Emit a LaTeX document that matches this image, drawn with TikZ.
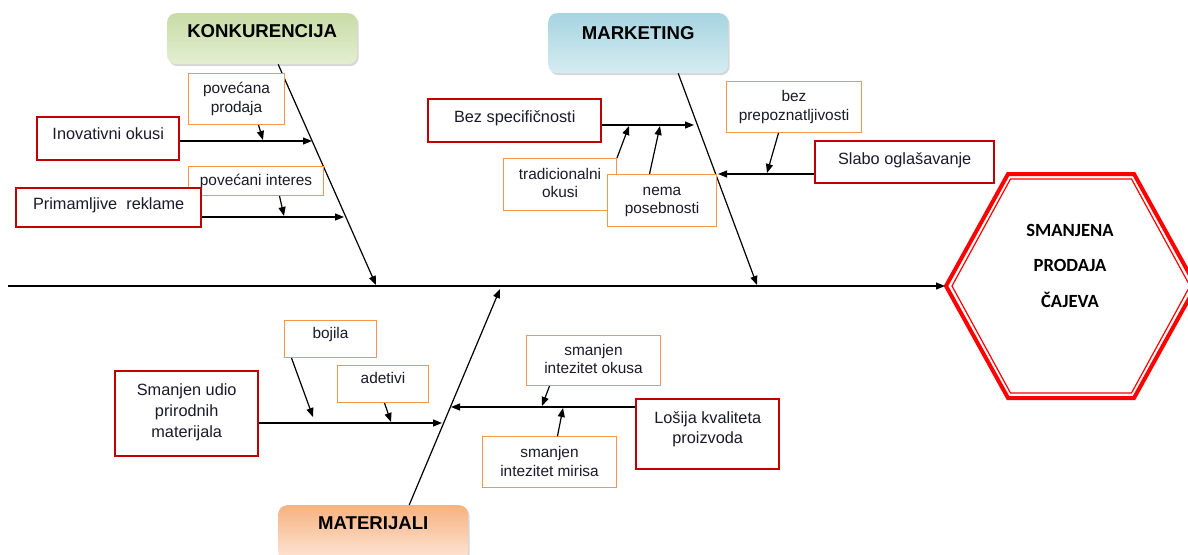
\documentclass[tikz,border=0pt]{standalone}
\usepackage{fontspec}
\setmainfont{Liberation Sans}
\newfontfamily\hexfont{Carlito}
\usetikzlibrary{arrows.meta,shadows}
\definecolor{boxred}{HTML}{C00000}
\definecolor{boxorange}{HTML}{F79646}
\definecolor{txt}{HTML}{1A1A2A}
\definecolor{hexred}{HTML}{FF0000}
\tikzset{
  bxbase/.style={anchor=north west, inner xsep=0pt, inner ysep=0pt, align=center, text=txt},
  redbox/.style={bxbase, draw=boxred, line width=2.4pt, fill=white, font=\fontsize{16.3}{20}\selectfont},
  orbox/.style={bxbase, draw=boxorange, line width=1pt, fill=white, font=\fontsize{15.4}{19}\selectfont},
  titlebox/.style={bxbase, rounded corners=9pt, text=black,
    font=\fontsize{18.6}{22}\selectfont\bfseries,
    drop shadow={shadow xshift=1.5pt, shadow yshift=-2pt, fill=black!35, opacity=0.45}},
  arr/.style={draw=black, line width=1.2pt, -{Triangle[length=9pt,width=7pt]}},
}
\begin{document}
\begin{tikzpicture}[x=1pt,y=-1pt]
\useasboundingbox (0,0) rectangle (1188,554);
\clip (0,0) rectangle (1188,554);

% category titles
\node[titlebox, top color={rgb,255:red,200;green,220;blue,166}, bottom color={rgb,255:red,228;green,238;blue,210},
      minimum width=190pt, text height=24pt, text depth=27pt] (konk) at (167,13) {KONKURENCIJA};
\node[titlebox, top color={rgb,255:red,166;green,212;blue,224}, bottom color={rgb,255:red,214;green,236;blue,242},
      minimum width=180pt, text height=26pt, text depth=34pt] (mark) at (548,13) {MARKETING};
\node[titlebox, top color={rgb,255:red,247;green,178;blue,128}, bottom color={rgb,255:red,253;green,230;blue,214},
      minimum width=190pt, text height=24pt, text depth=31pt] (mat) at (278,505) {MATERIJALI};

% spine and hexagon
\coordinate (sL) at (8,286);
\coordinate (hL) at (945,286);
\draw[hexred, line width=4pt, line join=miter] (946,286) -- (1008,174) -- (1134,174) -- (1196,286) -- (1134,398) -- (1008,398) -- cycle;
\draw[hexred, line width=1.2pt] (952,286) -- (1010.5,179) -- (1131.5,179) -- (1190,286) -- (1131.5,393) -- (1010.5,393) -- cycle;
\node[anchor=north, inner sep=0pt, align=center, text=black, font=\hexfont\fontsize{18.6}{35.3}\selectfont\bfseries,
      text height=88pt, text depth=2pt] (res) at (1070,219) {SMANJENA\\PRODAJA\\ČAJEVA};
\draw[arr] (sL) -- (hL);

% bones
\coordinate (kE) at (376,285);
\coordinate (mE) at (757,285);
\coordinate (tE) at (500,289);
\draw[arr] ([xshift=16pt]konk.south) -- (kE);
\draw[arr] ([xshift=40pt]mark.south) -- (mE);
\draw[arr] ([xshift=36pt]mat.north) -- (tE);

% KONKURENCIJA causes
\node[orbox, minimum width=96pt, text height=39pt, text depth=12pt] (pp) at (188,73) {povećana\\prodaja};
\node[redbox, minimum width=142pt, text height=22pt, text depth=21pt] (ino) at (36,116) {Inovativni okusi};
\node[orbox, minimum width=135pt, text height=19pt, text depth=10pt] (pi) at (188,166) {povećani interes};
\node[redbox, minimum width=185pt, text height=21pt, text depth=18pt] (pr) at (15,187) {Primamljive~~reklame};
\coordinate (k1) at (312,141);
\coordinate (k2) at (344,217);
\coordinate (s1) at (263,140);
\coordinate (s2) at (284,216);
\draw[arr] (ino.east |- k1) -- (k1);
\draw[arr] (pr.east |- k2) -- (k2);
\draw[arr] ([xshift=22pt]pp.south) -- (s1);
\draw[arr] ([xshift=23.5pt]pi.south) -- (s2);

% MARKETING causes
\node[redbox, minimum width=173pt, text height=23pt, text depth=20pt] (bez) at (427,98) {Bez specifičnosti};
\node[orbox, minimum width=113pt, text height=39pt, text depth=13pt, font=\fontsize{15.4}{18}\selectfont] (trad) at (503,158) {tradicionalni\\okusi};
\node[orbox, minimum width=109pt, text height=39pt, text depth=13pt, font=\fontsize{15.4}{18}\selectfont] (nema) at (607,174) {nema\\posebnosti};
\node[orbox, minimum width=135pt, text height=39pt, text depth=12pt] (prep) at (726,81) {bez\\prepoznatljivosti};
\node[redbox, minimum width=179pt, text height=23pt, text depth=19pt] (slabo) at (814,140) {Slabo oglašavanje};
\coordinate (m1) at (694,125);
\coordinate (m2) at (718,174);
\coordinate (s3) at (629,126);
\coordinate (s4) at (660,126);
\coordinate (s5) at (767,173);
\draw[arr] (bez.east |- m1) -- (m1);
\draw[arr] (slabo.west |- m2) -- (m2);
\draw[arr] (trad.north east) -- (s3);
\draw[arr] ([xshift=-12.5pt]nema.north) -- (s4);
\draw[arr] ([xshift=-15.5pt]prep.south) -- (s5);

% MATERIJALI causes
\node[redbox, minimum width=143pt, text height=66pt, text depth=19pt, font=\fontsize{16.3}{21}\selectfont] (udio) at (114,370) {Smanjen udio\\prirodnih\\materijala};
\node[orbox, minimum width=92pt, text height=18pt, text depth=19pt] (boj) at (284,320) {bojila};
\node[orbox, minimum width=91pt, text height=18pt, text depth=19pt] (ade) at (337,365) {adetivi};
\node[redbox, minimum width=143pt, text height=44pt, text depth=26pt, font=\fontsize{16.3}{20}\selectfont] (los) at (635,398) {Lošija kvaliteta\\proizvoda};
\node[orbox, minimum width=134pt, text height=38pt, text depth=12pt, font=\fontsize{15.4}{18}\selectfont] (oku) at (526,335) {smanjen\\intezitet okusa};
\node[orbox, minimum width=134pt, text height=40pt, text depth=11pt] (mir) at (482,436) {smanjen\\intezitet mirisa};
\coordinate (t1) at (442,423);
\coordinate (t2) at (451,407);
\coordinate (s6) at (313,417);
\coordinate (s7) at (391,422);
\coordinate (s8) at (542,406);
\coordinate (s9) at (563,408);
\draw[arr] (udio.east |- t1) -- (t1);
\draw[arr] (los.west |- t2) -- (t2);
\draw[arr] ([xshift=-39pt]boj.south) -- (s6);
\draw[arr] ([xshift=1.5pt]ade.south) -- (s7);
\draw[arr] ([xshift=-44pt]oku.south) -- (s8);
\draw[arr] ([xshift=8pt]mir.north) -- (s9);
\end{tikzpicture}
\end{document}
